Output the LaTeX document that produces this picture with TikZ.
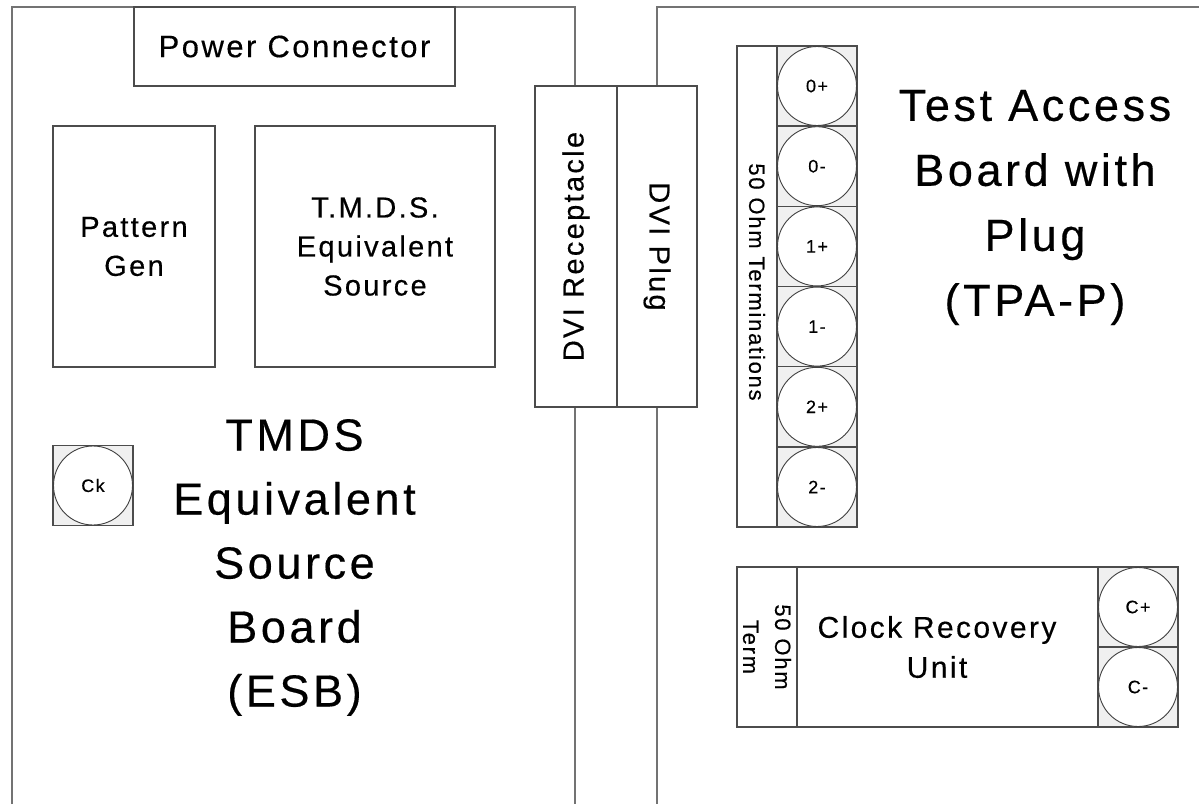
\documentclass[tikz,border=0pt]{standalone}
\usepackage{fontspec}
\setmainfont{Liberation Sans}[LetterSpace=8,FakeBold=0.4]
\begin{document}
\begin{tikzpicture}[x=1pt,y=-1pt,
  board/.style={draw=black!55,line width=1.5pt},
  box/.style={draw=black!70,fill=white,line width=1.3pt,inner sep=0pt,align=center},
  cell/.style={draw=black!70,fill=black!6,line width=1.2pt,minimum size=80pt,inner sep=0pt},
  pin/.style={circle,draw=black!75,fill=white,line width=0.9pt,minimum size=79pt,inner sep=0pt},
  pinlabel/.style={font=\fontsize{18}{20}\selectfont},
  boxtext/.style={font=\fontsize{29}{39}\selectfont,align=center},
  bigtext/.style={font=\fontsize{45}{64}\selectfont,align=center},
  smalltext/.style={font=\fontsize{22}{32}\selectfont,align=center}
]
\useasboundingbox (0,0) rectangle (1199,804);

% board outlines, open at the bottom
\draw[board] (12,804) -- (12,7) -- (575,7) -- (575,86);
\draw[board] (575,407) -- (575,804);
\draw[board] (1199,7) -- (657,7) -- (657,86);
\draw[board] (657,407) -- (657,804);

% ---- Equivalent Source Board ----
\node[box,minimum width=321pt,minimum height=79pt] (pc) at (294.5,46.5) {};
\node[boxtext,font=\fontsize{31}{39}\selectfont] at (pc.center) {Power Connector};

\node[box,minimum width=162pt,minimum height=241pt] (pg) at (134,246.5) {};
\node[boxtext] at (pg.center) {Pattern\\Gen};

\node[box,minimum width=240pt,minimum height=241pt] (tmds) at (375,246.5) {};
\node[boxtext] at (tmds.center) {T.M.D.S.\\Equivalent\\Source};

\node[cell] (ckcell) at (93,485.5) {};
\node[pin] (ck) at (ckcell.center) {};
\node[pinlabel] at (ck.center) {Ck};

\node[bigtext] (esb) at (294.5,567.5) {TMDS\\Equivalent\\Source\\Board\\(ESB)};

% ---- DVI connector pair ----
\node[box,rotate=90,minimum width=321pt,minimum height=82pt] (dvir) at (576,246.5) {};
\node[boxtext,rotate=90] at (dvir.center) {DVI Receptacle};
\node[box,rotate=-90,minimum width=321pt,minimum height=80pt] (dvip) at (657,246.5) {};
\node[boxtext,rotate=-90] at (dvip.center) {DVI Plug};

% ---- Test Access Board ----
\node[box,rotate=-90,minimum width=481pt,minimum height=40pt] (term) at (757,286.5) {};
\node[smalltext,rotate=-90] at (757,282) {50 Ohm Terminations};

\foreach \lab [count=\i from 0] in {0+,0-,1+,1-,2+,2-} {
  \node[cell] (cell\i) at (817,{86+80.2*\i}) {};
  \node[pin] (pin\i) at (cell\i.center) {};
  \node[pinlabel] at (pin\i.center) {\lab};
}

\node[bigtext,font=\fontsize{45}{65}\selectfont] (tpa) at (1035,207.5) {Test Access\\Board with\\Plug\\(TPA-P)};

% clock recovery unit
\node[box,minimum width=441pt,minimum height=160pt] (cru) at (957.5,647) {};
\node[box,rotate=-90,minimum width=160pt,minimum height=60pt] (cterm) at (767,647) {};
\node[smalltext,rotate=-90] at (cterm.center) {50 Ohm\\Term};
\node[boxtext,font=\fontsize{30}{40}\selectfont] at (937,647) {Clock Recovery\\Unit};

\node[cell] (ccp) at (1138,607) {};
\node[pin] (cp) at (ccp.center) {};
\node[pinlabel] at (cp.center) {C+};
\node[cell] (ccm) at (1138,687) {};
\node[pin] (cm) at (ccm.center) {};
\node[pinlabel] at (cm.center) {C-};
\end{tikzpicture}
\end{document}
